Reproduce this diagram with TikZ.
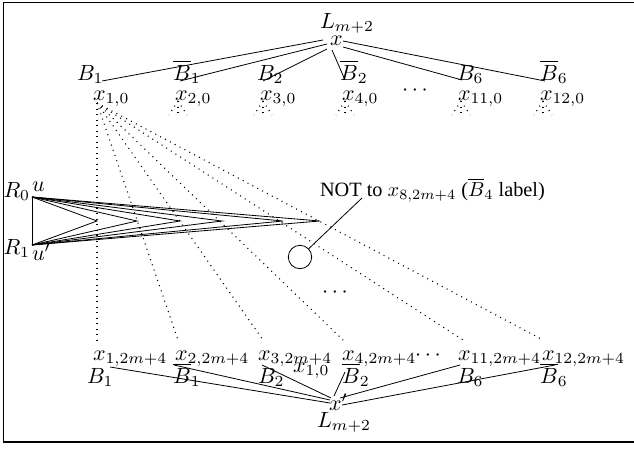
\documentclass[tikz,border=0pt]{standalone}
\usepackage{fontspec}
\newfontfamily\tms{Liberation Serif}
\begin{document}
\begin{tikzpicture}[x=1pt,y=-1pt,
  lab/.style={inner sep=0pt, outer sep=0pt, scale=2.2, anchor=base west},
  edge/.style={line width=0.8pt},
  dotline/.style={line width=1.1pt, dash pattern=on 1pt off 4.5pt},
]
\useasboundingbox (0,0) rectangle (634,450);
\draw[line width=1.2pt] (640,2.5) -- (3.3,2.5) -- (3.3,442) -- (640,442);

% ---------- top layer ----------
\node[lab] (Ltop) at (320,28) {$L_{m+2}$};
\node[lab] (xtop) at (330,45) {$x$};
\node[lab] (B1) at (77,80) {$B_1$};
\node[lab] (nB1) at (173,80) {$\overline{B}_1$};
\node[lab] (B2) at (257,80) {$B_2$};
\node[lab] (nB2) at (340,80) {$\overline{B}_2$};
\node[lab] (B6) at (457,80) {$B_6$};
\node[lab] (nB6) at (540,80) {$\overline{B}_6$};
\node[lab] (x10) at (93,100) {$x_{1,0}$};
\node[lab] (x20) at (175,100) {$x_{2,0}$};
\node[lab] (x30) at (260,100) {$x_{3,0}$};
\node[lab] (x40) at (342,100) {$x_{4,0}$};
\node[lab] (tdots) at (402,95.5) {$\cdots$};
\node[lab] (x110) at (458,100) {$x_{11,0}$};
\node[lab] (x120) at (540,100) {$x_{12,0}$};

\coordinate (s1) at (323,40);  \coordinate (e1) at (102,81);
\coordinate (s2) at (327,44);  \coordinate (e2) at (180,81);
\coordinate (s3) at (327,49);  \coordinate (e3) at (263,81);
\coordinate (s4) at (332,50);  \coordinate (e4) at (345,80);
\coordinate (s5) at (343,47);  \coordinate (e5) at (462,80);
\coordinate (s6) at (343,41);  \coordinate (e6) at (545,81);
\foreach \i in {1,...,6} \draw[edge] (s\i) -- (e\i);

% small fans
\foreach \cx [count=\k] in {178,263,345,461,543} {
  \coordinate (fa\k) at (\cx,101);
  \coordinate (fl\k) at (\cx-9,115);
  \coordinate (fm\k) at (\cx,115);
  \coordinate (fr\k) at (\cx+9,115);
  \draw[dotline] (fa\k) -- (fl\k);
  \draw[dotline] (fa\k) -- (fm\k);
  \draw[dotline] (fa\k) -- (fr\k);
}

% ---------- big fan ----------
\coordinate (apex) at (97,103);
\foreach \bx [count=\k] in {97,178,263,343,463,543} {
  \coordinate (bend\k) at (\bx,340);
  \draw[dotline] (apex) -- (bend\k);
}

% ---------- zigzag ----------
\node[lab] (R0) at (3.5,197) {$R_0$};
\node[lab] (ulab) at (32,191) {$u$};
\node[lab] (R1) at (3.5,254) {$R_1$};
\node[lab] (uplab) at (32,260) {$u'$};
\coordinate (u0) at (32,197);
\coordinate (u1) at (32,245);
\draw[edge] (u0) -- (u1);
\foreach \tx [count=\k] in {97,137,180,222,283,320} {
  \coordinate (tip\k) at (\tx,221);
  \draw[edge] (u0) -- (tip\k) -- (u1);
}

% ---------- NOT label ----------
\node[inner sep=0pt, outer sep=0pt, scale=2.03, anchor=base west] (notlab) at (320,196) {\tms NOT to $x_{8,2m+4}$ ($\overline{B}_4$ label)};
\node[draw, circle, minimum size=23.4pt, inner sep=0pt, line width=0.8pt] (circ) at (300,257) {};
\coordinate (notpt) at (362,198);
\draw[edge] (notpt) -- (circ);
\node[lab] (mdots) at (322,297) {$\cdots$};

% ---------- bottom layer ----------
\node[lab] (x1b) at (93,360) {$x_{1,2m+4}$};
\node[lab] (x2b) at (175,360) {$x_{2,2m+4}$};
\node[lab] (x3b) at (258,360) {$x_{3,2m+4}$};
\node[lab] (stray) at (293,372) {$x_{1,0}$};
\node[lab] (x4b) at (342,360) {$x_{4,2m+4}$};
\node[lab] (bdots) at (415,360) {$\cdots$};
\node[lab] (x11b) at (458,360) {$x_{11,2m+4}$};
\node[lab] (x12b) at (542,360) {$x_{12,2m+4}$};
\node[lab] (bB1) at (87,383) {$B_1$};
\node[lab] (bnB1) at (173,383) {$\overline{B}_1$};
\node[lab] (bB2) at (258,383) {$B_2$};
\node[lab] (bnB2) at (342,383) {$\overline{B}_2$};
\node[lab] (bB6) at (457,383) {$B_6$};
\node[lab] (bnB6) at (540,383) {$\overline{B}_6$};
\node[lab] (xbot) at (329,410) {$x'$};
\node[lab] (Lbot) at (317,427) {$L_{m+2}$};

\coordinate (t1) at (330,403); \coordinate (f1) at (110,367);
\coordinate (t2) at (330,400); \coordinate (f2) at (174,365);
\coordinate (t3) at (331,398); \coordinate (f3) at (262,365);
\coordinate (t4) at (334,396); \coordinate (f4) at (345,372);
\coordinate (t5) at (340,398); \coordinate (f5) at (460,365);
\coordinate (t6) at (342,405); \coordinate (f6) at (555,365);
\foreach \i in {1,...,6} \draw[edge] (t\i) -- (f\i);
\end{tikzpicture}
\end{document}
